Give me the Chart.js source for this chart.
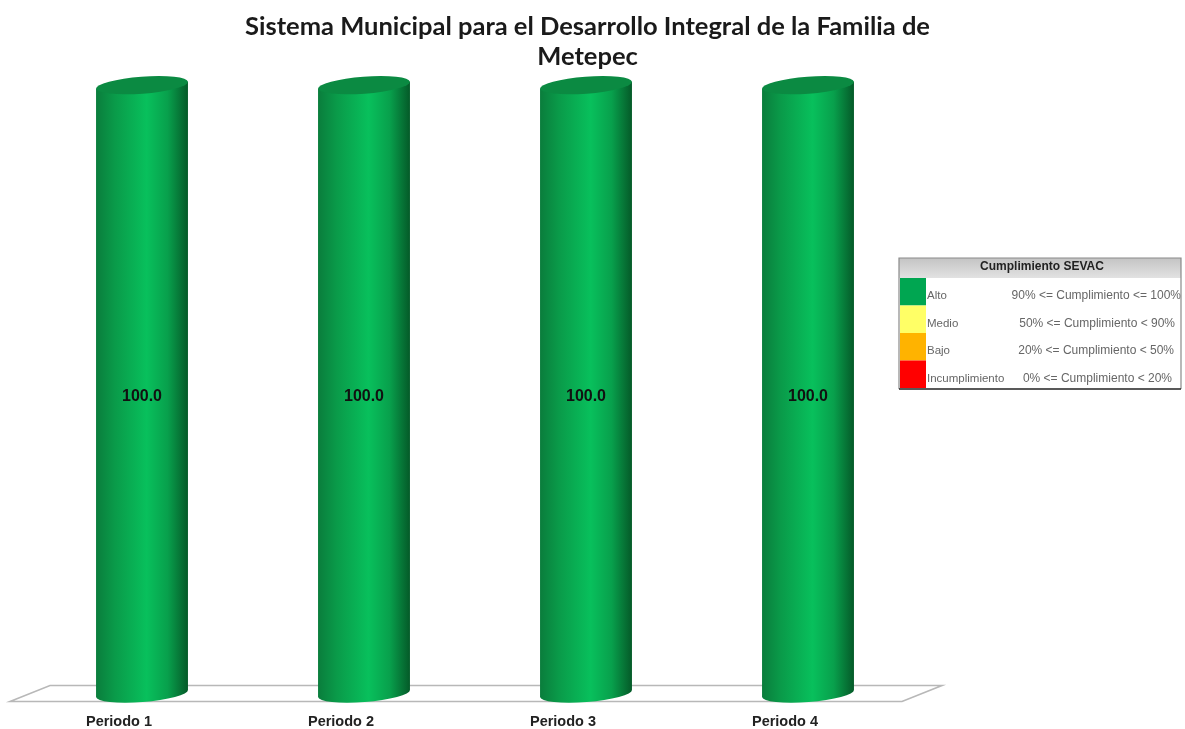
<!DOCTYPE html>
<html>
<head>
<meta charset="utf-8">
<style>
  html, body { margin: 0; padding: 0; background: #fff; }
  canvas { display: block; filter: blur(0.5px); }
</style>
</head>
<body>
<canvas id="chart" width="1185" height="729"></canvas>
<script src="https://cdn.jsdelivr.net/npm/chart.js@4"></script>
<script>
const titleLines = ["Sistema Municipal para el Desarrollo Integral de la Familia de", "Metepec"];
const periodos = ["Periodo 1", "Periodo 2", "Periodo 3", "Periodo 4"];
const cumplimiento = [100, 100, 100, 100];

const legendTitle = "Cumplimiento SEVAC";
const legendNames = ["Alto", "Medio", "Bajo", "Incumplimiento"];
const legendRanges = [
  "90% <= Cumplimiento <= 100%",
  "50% <= Cumplimiento < 90%",
  "20% <= Cumplimiento < 50%",
  "0% <= Cumplimiento < 20%",
];
const legendColors = ["#00a651", "#ffff66", "#ffb300", "#ff0000"];

// piso en perspectiva, atras de las barras
const floorPlugin = {
  id: "floor",
  beforeDatasetsDraw(chart) {
    const { ctx, chartArea: a } = chart;
    ctx.save();
    ctx.strokeStyle = "#b8b8b8";
    ctx.lineWidth = 1.6;
    ctx.beginPath();
    ctx.moveTo(a.left - 21, a.bottom + 8);
    ctx.lineTo(a.left + 19, a.bottom - 8);
    ctx.lineTo(a.right + 23, a.bottom - 8);
    ctx.lineTo(a.right - 17, a.bottom + 8);
    ctx.closePath();
    ctx.stroke();
    ctx.restore();
  },
};

// cilindros inclinados sobre las posiciones de las barras
const cylinderPlugin = {
  id: "cylinder",
  afterDatasetsDraw(chart) {
    const { ctx } = chart;
    const tilt = -0.075;
    const ry = 8.5;
    chart.getDatasetMeta(0).data.forEach((bar, i) => {
      const w = bar.width;
      const x0 = bar.x - w / 2;
      const rx = w / 2 / Math.cos(tilt);
      const dy = Math.tan(tilt) * w / 2;
      const grad = ctx.createLinearGradient(x0, 0, x0 + w, 0);
      grad.addColorStop(0, "#0a7d3c");
      grad.addColorStop(0.2, "#0a9a49");
      grad.addColorStop(0.55, "#08c05c");
      grad.addColorStop(0.78, "#08a04c");
      grad.addColorStop(0.93, "#067034");
      grad.addColorStop(1, "#045a28");

      ctx.save();
      ctx.fillStyle = grad;
      ctx.beginPath();
      ctx.moveTo(x0, bar.y - dy);
      ctx.lineTo(x0, bar.base - dy);
      ctx.ellipse(bar.x, bar.base, rx, ry, tilt, Math.PI, 0, true);
      ctx.lineTo(x0 + w, bar.y + dy);
      ctx.closePath();
      ctx.fill();

      ctx.fillStyle = "#0b8a42";
      ctx.beginPath();
      ctx.ellipse(bar.x, bar.y, rx, ry, tilt, 0, Math.PI * 2);
      ctx.fill();

      ctx.fillStyle = "#111";
      ctx.font = "bold 16px 'Liberation Sans'";
      ctx.textAlign = "center";
      ctx.textBaseline = "middle";
      ctx.fillText(cumplimiento[i].toFixed(1), bar.x, (bar.y + bar.base) / 2 + 7);
      ctx.restore();
    });
  },
};

// tabla de rangos a la derecha
const rangesPlugin = {
  id: "ranges",
  afterDraw(chart) {
    const { ctx } = chart;
    const x = 899, y = 258, w = 282, h = 131;
    const headH = 20, rowH = 27.5, swatchW = 26;
    ctx.save();
    const head = ctx.createLinearGradient(0, y, 0, y + headH);
    head.addColorStop(0, "#c4c4c4");
    head.addColorStop(1, "#e2e2e2");
    ctx.fillStyle = head;
    ctx.fillRect(x, y, w, headH);

    ctx.textBaseline = "middle";
    ctx.fillStyle = "#222";
    ctx.textAlign = "center";
    ctx.font = "bold 12px 'Liberation Sans'";
    ctx.fillText(legendTitle, x + w / 2 + 2, y + 9);

    legendNames.forEach((name, i) => {
      const ry = y + headH + i * rowH;
      ctx.fillStyle = legendColors[i];
      ctx.fillRect(x + 1, ry, swatchW, rowH);
      ctx.fillStyle = "#666";
      ctx.textAlign = "left";
      ctx.font = "11.5px 'Liberation Sans'";
      ctx.fillText(name, x + swatchW + 2, ry + 18);
      ctx.textAlign = "right";
      ctx.font = "12px 'Liberation Sans'";
      ctx.fillText(legendRanges[i], x + w - [0, 6, 7, 9][i], ry + 18);
    });

    ctx.strokeStyle = "#8a8a8a";
    ctx.lineWidth = 1.2;
    ctx.beginPath();
    ctx.moveTo(x, y + h);
    ctx.lineTo(x, y);
    ctx.lineTo(x + w, y);
    ctx.lineTo(x + w, y + h);
    ctx.stroke();
    ctx.strokeStyle = "#222";
    ctx.lineWidth = 1.6;
    ctx.beginPath();
    ctx.moveTo(x, y + h);
    ctx.lineTo(x + w, y + h);
    ctx.stroke();
    ctx.restore();
  },
};

new Chart(document.getElementById("chart"), {
  type: "bar",
  data: {
    labels: periodos,
    datasets: [
      {
        label: legendTitle,
        data: cumplimiento,
        backgroundColor: "rgba(0,0,0,0)",
        borderWidth: 0,
        barPercentage: 0.414,
        categoryPercentage: 1,
      },
    ],
  },
  plugins: [floorPlugin, cylinderPlugin, rangesPlugin],
  options: {
    responsive: false,
    animation: false,
    layout: { padding: { right: 10 } },
    plugins: {
      legend: { display: false },
      tooltip: { enabled: false },
      title: {
        display: true,
        text: titleLines,
        color: "#1a1a1a",
        font: { family: "Lato", size: 25.5, weight: "bold", lineHeight: 1.18 },
        padding: { top: 12, bottom: 13 },
      },
    },
    scales: {
      x: {
        grid: { display: false },
        border: { display: false },
        ticks: {
          color: "#222",
          font: { family: "'Liberation Sans'", size: 14.5, weight: "bold" },
          padding: 11.5,
          labelOffset: -23,
          maxRotation: 0,
        },
        afterFit: (s) => { s.height = 35.5; },
      },
      y: {
        min: 0,
        max: 100,
        grid: { display: false },
        border: { display: false },
        ticks: { display: false },
        afterFit: (s) => { s.width = 31; },
      },
      yRight: {
        position: "right",
        grid: { display: false },
        border: { display: false },
        ticks: { display: false },
        afterFit: (s) => { s.width = 256; },
      },
    },
  },
});
</script>
</body>
</html>
